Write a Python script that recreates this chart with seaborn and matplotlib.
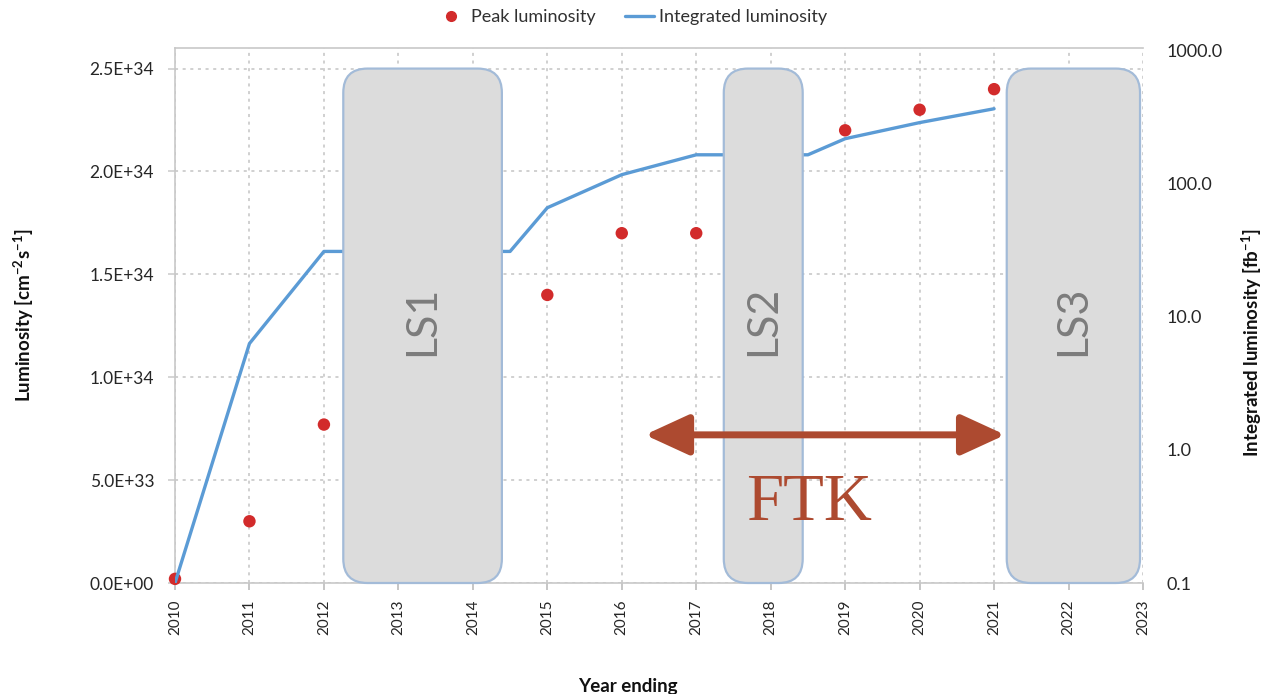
import matplotlib
matplotlib.use("Agg")
import numpy as np
import pandas as pd
import seaborn as sns
import matplotlib.pyplot as plt
from matplotlib.patches import FancyBboxPatch, FancyArrowPatch
from matplotlib.lines import Line2D
from matplotlib.ticker import NullLocator, FixedLocator

# Peak instantaneous luminosity per year (cm^-2 s^-1)
peak_years = [2010, 2011, 2012, 2015, 2016, 2017, 2019, 2020, 2021]
peak_lumi = [2.0e32, 3.0e33, 7.7e33, 1.4e34, 1.7e34, 1.7e34, 2.2e34, 2.3e34, 2.4e34]

# Cumulative integrated luminosity (fb^-1), flat through the long shutdowns
int_years = [2010, 2011, 2012, 2013, 2014, 2014.5, 2015, 2016, 2017, 2018, 2018.5, 2019, 2020, 2021]
int_lumi = [0.1, 6.3, 31, 31, 31, 31, 66, 117, 165, 165, 165, 218, 288, 366]

# Long shutdown periods
shutdown_names = ["LS1", "LS2", "LS3"]
shutdown_start = [2012.26, 2017.37, 2021.17]
shutdown_end = [2014.39, 2018.43, 2022.96]

# FTK operation window
ftk_start, ftk_end = 2016.31, 2021.15

x_ticks = list(range(2010, 2024))
left_ticks = [0.0, 5e33, 1e34, 1.5e34, 2e34, 2.5e34]
right_ticks = [0.1, 1.0, 10.0, 100.0, 1000.0]

RED = "#d22b2b"
BLUE = "#5b9bd5"
RUST = "#ad4a30"
GRID = "#c4c4c4"
TICKC = "#262626"

sns.set_theme(style="white")
plt.rcParams["font.family"] = ["Lato", "DejaVu Sans"]
plt.rcParams["mathtext.default"] = "regular"

fig = plt.figure(figsize=(12.7, 6.94), dpi=100)
ax_l, ax_b, ax_w, ax_h = 175 / 1270, 1 - 583 / 694, 968 / 1270, 535 / 694
ax = fig.add_axes([ax_l, ax_b, ax_w, ax_h])
ax2 = ax.twinx()

peak_df = pd.DataFrame({"year": peak_years, "lumi": peak_lumi})
int_df = pd.DataFrame({"year": int_years, "lumi": int_lumi})

sns.scatterplot(data=peak_df, x="year", y="lumi", ax=ax, color=RED, s=80,
                edgecolor="none", legend=False, zorder=3, clip_on=False)
sns.lineplot(data=int_df, x="year", y="lumi", ax=ax2, color=BLUE, lw=2.4,
             legend=False, zorder=2)

# Left axis
ax.set_xlim(2010, 2023)
ax.set_ylim(0, 2.6e34)
ax.xaxis.set_major_locator(FixedLocator(x_ticks))
ax.set_xticklabels([str(y) for y in x_ticks], rotation=90)
ax.set_yticks(left_ticks)
ax.set_yticklabels([f"{v:.1E}" for v in left_ticks])
ax.grid(True, linestyle=(0, (2, 3)), color=GRID, lw=1.1)
ax.tick_params(axis="x", length=5, color="#bfbfbf", pad=7, labelsize=11,
               labelcolor=TICKC, bottom=True)
ax.tick_params(axis="y", length=5, color="#d0d0d0", pad=10, labelsize=12.5,
               labelcolor=TICKC, left=True)
for side in ["top", "left", "bottom"]:
    ax.spines[side].set_color("#c8c8c8")
    ax.spines[side].set_linewidth(1.2)
ax.spines["right"].set_visible(False)
ax.set_xlabel("Year ending", fontsize=13.5, fontweight="bold", color="#111111")
ax.xaxis.set_label_coords((628 - 175) / 968, -0.178)
ax.set_ylabel("Luminosity [cm$^{-2}$s$^{-1}$]", fontsize=13.5, fontweight="bold",
              color="#111111")
ax.yaxis.set_label_coords(-(175 - 36) / 968, 0.5)

# Right (log) axis
ax2.set_yscale("log")
ax2.set_ylim(0.1, 1047)
ax2.yaxis.set_major_locator(FixedLocator(right_ticks))
ax2.yaxis.set_minor_locator(NullLocator())
ax2.set_yticklabels([f"{v:.1f}" for v in right_ticks])
ax2.tick_params(axis="y", length=0, pad=17, labelsize=13, labelcolor=TICKC)
ax2.grid(False)
for side in ax2.spines:
    ax2.spines[side].set_visible(False)
ax2.set_ylabel("Integrated luminosity [fb$^{-1}$]", fontsize=13.5,
               fontweight="bold", color="#111111")
ax2.yaxis.set_label_coords(1 + (1240 - 1143) / 968, 0.45)

# Shutdown boxes (rounded) drawn above the luminosity curve
aspect = (ax_w * 1270) / (ax_h * 694)
box_top = 2.5e34 / 2.6e34
for name, s, e in zip(shutdown_names, shutdown_start, shutdown_end):
    x0 = (s - 2010) / 13
    w = (e - s) / 13
    box = FancyBboxPatch((x0, 0), w, box_top,
                         boxstyle="round,pad=0,rounding_size=0.025",
                         mutation_aspect=aspect, transform=ax2.transAxes,
                         facecolor="#dcdcdc", edgecolor="#a3bbd8", lw=1.6,
                         zorder=5, clip_on=False)
    ax2.add_artist(box)
    ax2.text(x0 + w / 2, 0.49, name, rotation=90, ha="center", va="center",
             fontsize=31, fontweight="normal", color="#7c7c7c",
             transform=ax2.transAxes, zorder=6)

# FTK operation window
arrow = FancyArrowPatch((ftk_start, 7.2e33), (ftk_end, 7.2e33),
                        arrowstyle="<|-|>,head_length=1.35,head_width=0.62",
                        mutation_scale=20, color=RUST, lw=5,
                        transform=ax.transData, zorder=8,
                        shrinkA=0, shrinkB=0)
ax2.add_artist(arrow)
ax2.text(2018.52, 3.85e33, "FTK", ha="center", va="center", fontsize=48,
         family=["Liberation Serif", "DejaVu Serif"], color=RUST,
         transform=ax.transData, zorder=8)

# Legend
handles = [
    Line2D([], [], marker="o", color=RED, linestyle="none", markersize=7),
    Line2D([], [], color=BLUE, lw=2.4),
]
fig.legend(handles, ["Peak luminosity", "Integrated luminosity"],
           loc="center", bbox_to_anchor=(632 / 1270, 1 - 17 / 694), ncol=2,
           frameon=False, fontsize=13, handlelength=1.6, handletextpad=0.3,
           columnspacing=1.6, labelcolor="#303030")

fig.savefig("out.png", dpi=100)
